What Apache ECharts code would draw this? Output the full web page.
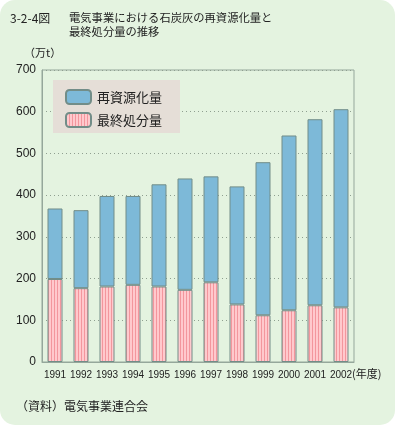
<!DOCTYPE html>
<html>
<head>
<meta charset="utf-8">
<script src="https://cdn.jsdelivr.net/npm/echarts@6/dist/echarts.min.js"></script>
<style>
  html, body { margin: 0; padding: 0; background: #fff; }
  #panel { position: absolute; left: 0; top: 0; width: 395px; height: 425px; background: #e4f3e0; border-radius: 15px; }
  #main { position: absolute; left: 0; top: 0; width: 396px; height: 428px; }
</style>
</head>
<body>
<div id="panel"></div>
<div id="main"></div>
<script>
// 年度
const years = ['1991', '1992', '1993', '1994', '1995', '1996', '1997', '1998', '1999', '2000', '2001', '2002'];
// 最終処分量 (万t)
const disposal = [199, 177, 181, 185, 181, 173, 191, 138, 112, 124, 136, 131];
// 再資源化量 (万t)
const recycled = [169, 187, 217, 213, 245, 267, 254, 283, 367, 419, 446, 475];

const font = '"Noto Sans CJK JP", sans-serif';
const numFont = '"Liberation Sans", Arial, sans-serif';

// 縦縞のパターン
const stripe = document.createElement('canvas');
stripe.width = 3;
stripe.height = 4;
const sc = stripe.getContext('2d');
sc.fillStyle = '#ffc9cd';
sc.fillRect(0, 0, 3, 4);
sc.fillStyle = '#f3969d';
sc.fillRect(0, 0, 1, 4);

const chart = echarts.init(document.getElementById('main'));

chart.setOption({
  backgroundColor: 'transparent',
  animation: false,
  grid: {
    left: 42, right: 42, top: 70, bottom: 66,
    show: true,
    borderColor: '#95a79b',
    borderWidth: 1,
    backgroundColor: 'transparent'
  },
  legend: {
    data: ['再資源化量', '最終処分量'],
    orient: 'vertical',
    left: 65,
    top: 89,
    padding: 0,
    itemWidth: 25,
    itemHeight: 14,
    itemGap: 7,
    z: 10,
    textStyle: { fontFamily: font, fontSize: 13, color: '#222', padding: [0, 0, 0, 1] }
  },
  xAxis: {
    type: 'category',
    data: years,
    axisLine: { lineStyle: { color: '#95a79b' } },
    axisTick: { show: false },
    axisLabel: { fontFamily: numFont, fontSize: 10, color: '#222', margin: 8, interval: 0 }
  },
  yAxis: {
    type: 'value',
    min: 0, max: 700, interval: 100,
    axisLine: { show: true, lineStyle: { color: '#95a79b' } },
    axisTick: { show: false },
    axisLabel: { fontFamily: numFont, fontSize: 12, color: '#222', margin: 6 },
    splitLine: { lineStyle: { color: '#8f9f90', type: [1, 3] } }
  },
  series: [
    {
      name: '最終処分量',
      type: 'bar',
      stack: 'total',
      barWidth: 15,
      data: disposal,
      itemStyle: { color: { image: stripe, repeat: 'repeat' }, borderColor: '#728d88', borderWidth: 1 }
    },
    {
      name: '再資源化量',
      type: 'bar',
      stack: 'total',
      barWidth: 15,
      data: recycled,
      itemStyle: { color: '#7db9d8', borderColor: '#728d88', borderWidth: 1 }
    }
  ],
  graphic: [
    { type: 'rect', z: 3, shape: { x: 53, y: 80, width: 127, height: 53 }, style: { fill: '#e5ded7' } },
    { type: 'text', left: 10, top: 12, style: { text: '3-2-4図', font: '12px ' + font, fill: '#222' } },
    { type: 'text', left: 69, top: 12, style: { text: '電気事業における石炭灰の再資源化量と', font: '11.3px ' + font, fill: '#222' } },
    { type: 'text', left: 69, top: 26, style: { text: '最終処分量の推移', font: '11.3px ' + font, fill: '#222' } },
    { type: 'text', left: 24, top: 47, style: { text: '（万t）', font: '11px ' + font, fill: '#222' } },
    { type: 'text', left: 352, top: 368, style: { text: '(年度)', font: '11px ' + font, fill: '#222' } },
    { type: 'text', left: 16, top: 400, style: { text: '（資料）電気事業連合会', font: '12px ' + font, fill: '#222' } }
  ]
});
</script>
</body>
</html>
